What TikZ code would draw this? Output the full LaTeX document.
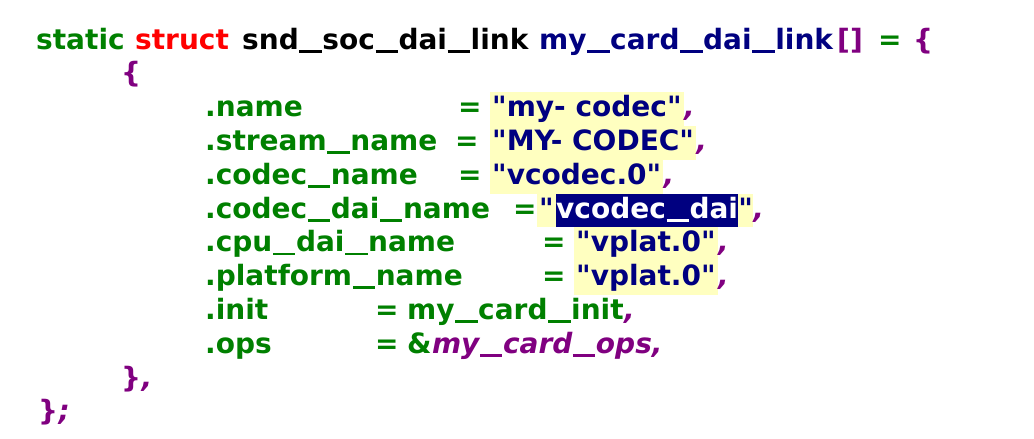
\documentclass[tikz,border=0pt]{standalone}
\usepackage{fontspec}
\newfontfamily\codefont{DejaVu Sans}
\definecolor{kgreen}{HTML}{008000}
\definecolor{kred}{HTML}{FF0000}
\definecolor{knavy}{HTML}{000080}
\definecolor{kpurple}{HTML}{800080}
\definecolor{hlyellow}{HTML}{FFFFC0}
\newcommand\us{\kern0.6pt\rule[-0.13em]{0.8em}{0.1em}\kern0.6pt}
\tikzset{
  tok/.style={anchor=base west, inner sep=0pt, font=\codefont\fontsize{28}{34}\selectfont\bfseries},
  kw/.style={tok, text=kgreen},
  kwred/.style={tok, text=kred},
  plain/.style={tok, text=black},
  ident/.style={tok, text=knavy},
  punct/.style={tok, text=kpurple},
  ipunct/.style={tok, text=kpurple, font=\codefont\fontsize{28}{34}\selectfont\bfseries\itshape},
  strbox/.style={tok, text=knavy, fill=hlyellow, inner xsep=2pt, text height=24.5pt, text depth=9.3pt},
  selbox/.style={tok, text=white, fill=knavy, text height=24.5pt, text depth=9.3pt},
}
\begin{document}
\begin{tikzpicture}[x=1pt,y=-1pt]
\useasboundingbox[fill=white] (0,0) rectangle (1034,439);
% line 0
\node[kw] (l0a) at (36,49) {static};
\node[kwred] (l0b) at (135,49) {struct};
\node[plain] (l0c) at (242,49) {snd\us soc\us dai\us link};
\node[ident] (l0d) at (539,49) {my\us card\us dai\us link};
\node[punct] (l0e) at (837,49) {[]};
\node[kw] (l0f) at (878,49) {=};
\node[punct] (l0g) at (913,49) {\{};
% line 1
\node[punct] (l1) at (121,82.8) {\{};
% .name
\node[kw] (l2a) at (205,116.6) {.name};
\node[kw] (l2b) at (458,116.6) {=};
\node[strbox] (l2c) at (490,116.6) {"my- codec"};
\node[ipunct] (l2d) at (l2c.base east) {,};
% .stream_name
\node[kw] (l3a) at (205,150.4) {.stream\us name};
\node[kw] (l3b) at (455,150.4) {=};
\node[strbox] (l3c) at (490,150.4) {"MY- CODEC"};
\node[ipunct] (l3d) at (l3c.base east) {,};
% .codec_name
\node[kw] (l4a) at (205,184.2) {.codec\us name};
\node[kw] (l4b) at (458,184.2) {=};
\node[strbox] (l4c) at (490,184.2) {"vcodec.0"};
\node[ipunct] (l4d) at (l4c.base east) {,};
% .codec_dai_name
\node[kw] (l5a) at (205,218) {.codec\us dai\us name};
\node[kw] (l5b) at (513,218) {=};
\node[strbox] (l5c) at (537,218) {"};
\node[selbox] (l5d) at (l5c.base east) {vcodec\us dai};
\node[strbox, inner xsep=0pt] (l5e) at (l5d.base east) {"\hspace{2pt}};
\node[ipunct] (l5f) at (l5e.base east) {,};
% .cpu_dai_name
\node[kw] (l6a) at (205,251.8) {.cpu\us dai\us name};
\node[kw] (l6b) at (542,251.8) {=};
\node[strbox] (l6c) at (574,251.8) {"vplat.0"};
\node[ipunct] (l6d) at (l6c.base east) {,};
% .platform_name
\node[kw] (l7a) at (205,285.6) {.platform\us name};
\node[kw] (l7b) at (542,285.6) {=};
\node[strbox] (l7c) at (574,285.6) {"vplat.0"};
\node[ipunct] (l7d) at (l7c.base east) {,};
% .init
\node[kw] (l8a) at (205,319.4) {.init};
\node[kw] (l8b) at (375,319.4) {=};
\node[kw] (l8c) at (407,319.4) {my\us card\us init};
\node[ipunct] (l8d) at (l8c.base east) {,};
% .ops
\node[kw] (l9a) at (205,353.2) {.ops};
\node[kw] (l9b) at (375,353.2) {=};
\node[kw] (l9c) at (407,353.2) {\&};
\node[ipunct] (l9d) at (l9c.base east) {my\us card\us ops,};
% closing
\node[punct] (l10a) at (121,387) {\}};
\node[ipunct] (l10b) at (l10a.base east) {,};
\node[punct] (l11a) at (38,420.8) {\}};
\node[ipunct] (l11b) at (l11a.base east) {;};
\end{tikzpicture}
\end{document}
